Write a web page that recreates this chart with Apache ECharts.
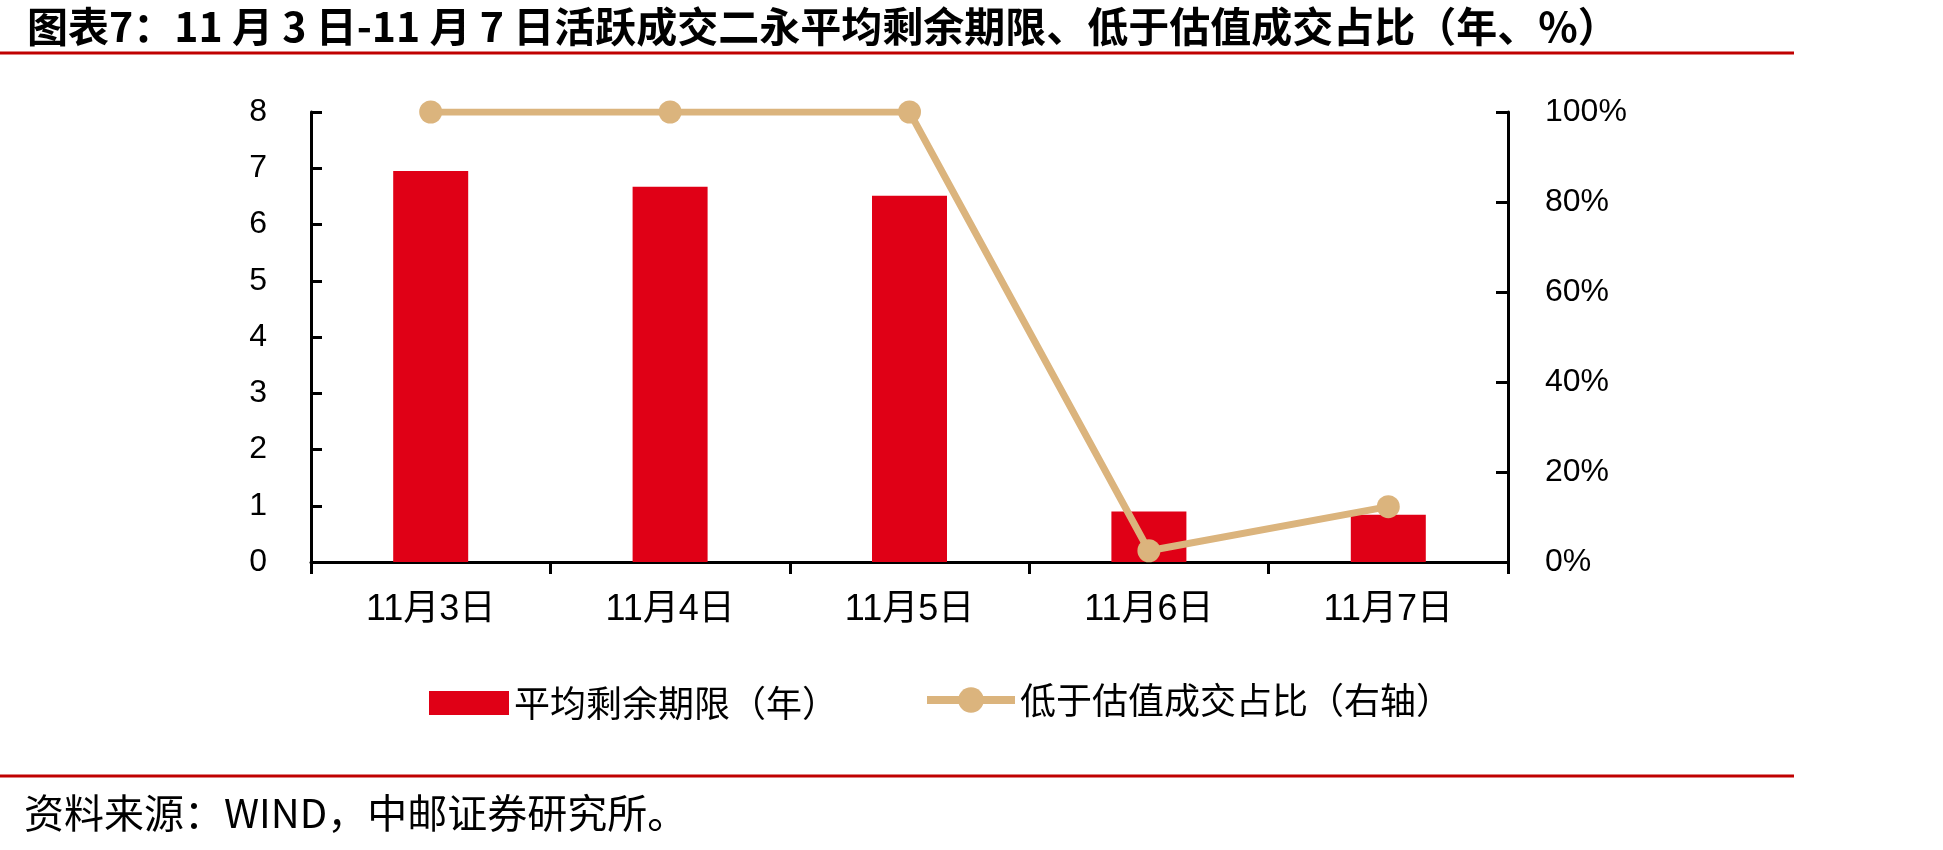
<!DOCTYPE html>
<html>
<head>
<meta charset="utf-8">
<script src="https://cdn.jsdelivr.net/npm/echarts@6/dist/echarts.min.js"></script>
<style>
  html, body { margin: 0; padding: 0; background: #fff; }
  #chart { width: 1943px; height: 850px; }
</style>
</head>
<body>
<div id="chart"></div>
<script>
// values
const categories = ['11月3日', '11月4日', '11月5日', '11月6日', '11月7日'];
const avgTerm = [6.95, 6.67, 6.51, 0.90, 0.84];      // 平均剩余期限（年）
const belowRatio = [100, 100, 100, 2.5, 12.3];       // 低于估值成交占比（%）
const leftTicks = { min: 0, max: 8, interval: 1 };
const rightTicks = { min: 0, max: 100, interval: 20 };

const FONT = '"Liberation Sans", "Noto Sans CJK SC", sans-serif';
const CJK = '"Noto Sans CJK SC", sans-serif';
const TAN = '#DBB47D';

const chart = echarts.init(document.getElementById('chart'));

const axisLine = { show: true, lineStyle: { color: '#000', width: 3 } };
const legendText = { fontFamily: CJK, fontSize: 36, color: '#000' };

chart.setOption({
    backgroundColor: '#fff',
    animation: false,
    title: {
        text: '图表7：11 月 3 日-11 月 7 日活跃成交二永平均剩余期限、低于估值成交占比（年、%）',
        left: 22,
        top: 1,
        textStyle: { fontFamily: CJK, fontSize: 41, fontWeight: 'bold', color: '#000' },
    },
    graphic: [
        { type: 'line', shape: { x1: 0, y1: 53, x2: 1794, y2: 53 }, style: { stroke: '#C00000', lineWidth: 3 } },
        { type: 'line', shape: { x1: 0, y1: 776, x2: 1794, y2: 776 }, style: { stroke: '#C00000', lineWidth: 3 } },
        {
            type: 'text', left: 24, top: 793,
            style: { text: '资料来源：WIND，中邮证券研究所。', font: '40px ' + CJK, fill: '#000' },
        },
    ],
    legend: [
        {
            left: 424, top: 680,
            itemWidth: 80, itemHeight: 24, itemGap: 10,
            icon: 'rect',
            textStyle: legendText,
            data: ['平均剩余期限（年）'],
        },
        {
            left: 918, top: 677,
            itemWidth: 88, itemHeight: 32, itemGap: 10,
            textStyle: legendText,
            data: [{ name: '低于估值成交占比（右轴）', lineStyle: { width: 8, color: TAN } }],
        },
    ],
    grid: { left: 311, right: 435, top: 112, bottom: 288, containLabel: false },
    xAxis: {
        type: 'category',
        data: categories,
        axisLine: axisLine,
        axisTick: { show: true, length: 12, inside: false, lineStyle: { color: '#000', width: 3 } },
        axisLabel: { margin: 30, fontFamily: FONT, fontSize: 36, color: '#000' },
    },
    yAxis: [
        {
            type: 'value',
            min: leftTicks.min, max: leftTicks.max, interval: leftTicks.interval,
            axisLine: axisLine,
            axisTick: { show: true, inside: true, length: 11, lineStyle: { color: '#000', width: 3 } },
            splitLine: { show: false },
            axisLabel: { margin: 44, fontFamily: FONT, fontSize: 32, color: '#000' },
        },
        {
            type: 'value',
            min: rightTicks.min, max: rightTicks.max, interval: rightTicks.interval,
            axisLine: axisLine,
            axisTick: { show: true, inside: true, length: 12, lineStyle: { color: '#000', width: 3 } },
            splitLine: { show: false },
            axisLabel: { margin: 37, fontFamily: FONT, fontSize: 32, color: '#000', formatter: '{value}%' },
        },
    ],
    series: [
        {
            name: '平均剩余期限（年）',
            type: 'bar',
            data: avgTerm,
            barWidth: 75,
            itemStyle: { color: '#E00016' },
        },
        {
            name: '低于估值成交占比（右轴）',
            type: 'line',
            yAxisIndex: 1,
            data: belowRatio,
            symbol: 'circle',
            symbolSize: 23,
            lineStyle: { color: TAN, width: 7 },
            itemStyle: { color: TAN },
        },
    ],
});
</script>
</body>
</html>
